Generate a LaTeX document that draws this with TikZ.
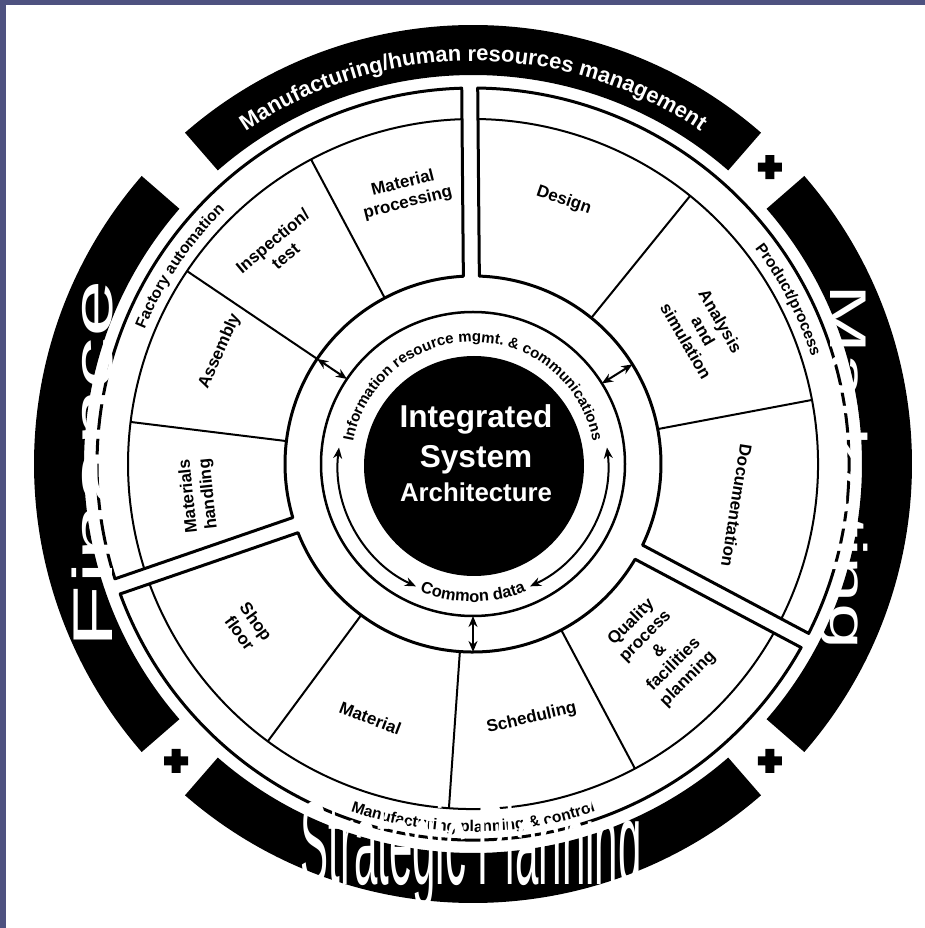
\documentclass[tikz,border=0pt]{standalone}
\usepackage{graphicx}
\usepackage{fontspec}
\setmainfont{Liberation Sans}
\usetikzlibrary{arrows.meta,decorations.text}
\definecolor{slideblue}{RGB}{78,82,128}
\newcommand\ringfont{\bfseries\fontsize{7.5}{8}\selectfont}
\newcommand\datafont{\bfseries\fontsize{8.2}{9}\selectfont}
\newcommand\bandfont{\bfseries\fontsize{7.8}{9}\selectfont}
\newcommand\topfont{\bfseries\fontsize{11}{12}\selectfont}

\begin{document}
\begin{tikzpicture}[x=0.5pt,y=0.5pt,
  grp/.style={line width=1.5pt,line join=round},
  sec/.style={line width=1pt},
  lbl/.style={font=\bfseries\fontsize{8.5}{10}\selectfont,align=center,inner sep=0pt},
  hubline/.style={text=white,inner sep=0pt,anchor=base,font=\bfseries\fontsize{#1}{#1}\selectfont},
  big/.style={text=white,inner sep=0pt,anchor=base,font=\fontsize{#1}{#1}\selectfont},
  link/.style={{Stealth[length=5.5pt,width=4.5pt]}-{Stealth[length=5.5pt,width=4.5pt]},line width=1pt}]
\fill[slideblue] (0,0) rectangle (925,928);
\fill[white] (6,0) rectangle (925,923);
\useasboundingbox (0,0) rectangle (925,928);

\begin{scope}[shift={(473,464)}]
% outer black ring in four pieces
\foreach \a in {0,90,180,270}
  \fill ({\a-41}:439) arc[start angle=\a-41,end angle=\a+41,radius=439]
    -- ({\a+41}:389) arc[start angle=\a+41,end angle=\a-41,radius=389] -- cycle;
\foreach \a in {45,225,315}
  \fill[shift={(\a:420)}] (-12,-4.5) rectangle (12,4.5) (-4.5,-12) rectangle (4.5,12);

% the three groups
\foreach \c/\d in {-28/90.5, 90.5/199, 199/332} {
  \draw[grp] ({\c+asin(8/188)}:188) -- ({\c+asin(8/376)}:376)
    arc[start angle={\c+asin(8/376)},end angle={\d-asin(8/376)},radius=376]
    -- ({\d-asin(8/188)}:188)
    arc[start angle={\d-asin(8/188)},end angle={\c+asin(8/188)},radius=188] -- cycle;
  \draw[sec] ({\c+asin(8/345)}:345)
    arc[start angle={\c+asin(8/345)},end angle={\d-asin(8/345)},radius=345];
}
\foreach \a in {10.7,51,118,146,173,233.5,266,298}
  \draw[sec] (\a:188) -- (\a:345);

% hub
\node (hub) [circle,fill=black,minimum size=110pt,inner sep=0pt] at (1,-2) {};
\draw[line width=1.25pt] (0,0) circle[radius=152];
\draw[link] (173:135) arc[start angle=173,end angle=245,radius=135];
\draw[link] (7:135) arc[start angle=7,end angle=-65,radius=135];
\foreach \a [count=\i] in {32,146,270} {
  \coordinate (in\i) at (\a:152);
  \coordinate (out\i) at (\a:188);
  \draw[link] (in\i) -- (out\i);
}
\node (integrated) [hubline=15.8] at (3,36) {Integrated};
\node (system) [hubline=15.8] at (3,-4) {System};
\node (architecture) [hubline=12.9] at (3,-38) {Architecture};

\path[decorate,decoration={text along path,text align=center,
  text={|\ringfont|Information resource mgmt. {\&} communications}}]
  (180:122) arc[start angle=180,end angle=0,radius=122];
\path[decorate,decoration={text along path,text align=center,
  text={|\datafont|Common data}}]
  (230:138) arc[start angle=230,end angle=310,radius=138];

% group labels
\path[decorate,decoration={text along path,text align=center,
  text={|\bandfont|Factory automation}}]
  (176:355) arc[start angle=176,end angle=116,radius=355];
\path[decorate,decoration={text along path,text align=center,
  text={|\bandfont|Product/process}}]
  (57.5:355) arc[start angle=57.5,end angle=-2.5,radius=355];
\path[decorate,decoration={text along path,text align=center,
  text={|\bandfont|Manufacturing planning {\&} control}}]
  (225:368) arc[start angle=225,end angle=315,radius=368];

% sectors
\node (matproc) [lbl,rotate=14] at (104:279) {Material\\processing};
\node (inspect) [lbl,rotate=40] at (132:290) {Inspection/\\test};
\node (assembly) [lbl,rotate=66] at (156:277) {Assembly};
\node (mathand) [lbl,rotate=96] at (186.5:276) {Materials\\handling};
\node (shop) [lbl,rotate=-54] at (216:278) {Shop\\floor};
\node (material) [lbl,rotate=-21] at (248:274) {Material};
\node (sched) [lbl,rotate=13] at (283:261) {Scheduling};
\node (quality) [lbl,rotate=45] at (315:264) {Quality\\process\\\&\\facilities\\planning};
\node (docu) [lbl,rotate=-99] at (351:267) {Documentation};
\node (analysis) [lbl,rotate=-60] at (30:266) {Analysis\\and\\simulation};
\node (design) [lbl,rotate=-19] at (71:279) {Design};

% white words on the outer ring
\path[decorate,decoration={text along path,text align=center,text color=white,
  text={|\topfont|Manufacturing/human resources management}}]
  (135:403) arc[start angle=135,end angle=45,radius=403];
\node (finance) [big=28,rotate=90] at (-360,0) {\scalebox{1.85}[1]{Finance}};
\node (marketing) [big=25.8,rotate=-90] at (357,-3) {\scalebox{1.61}[1]{Marketing}};
\node (strategic) [big=59.4] at (-2,-421) {\scalebox{0.354}[1]{Strategic Planning}};
\end{scope}
\end{tikzpicture}
\end{document}
